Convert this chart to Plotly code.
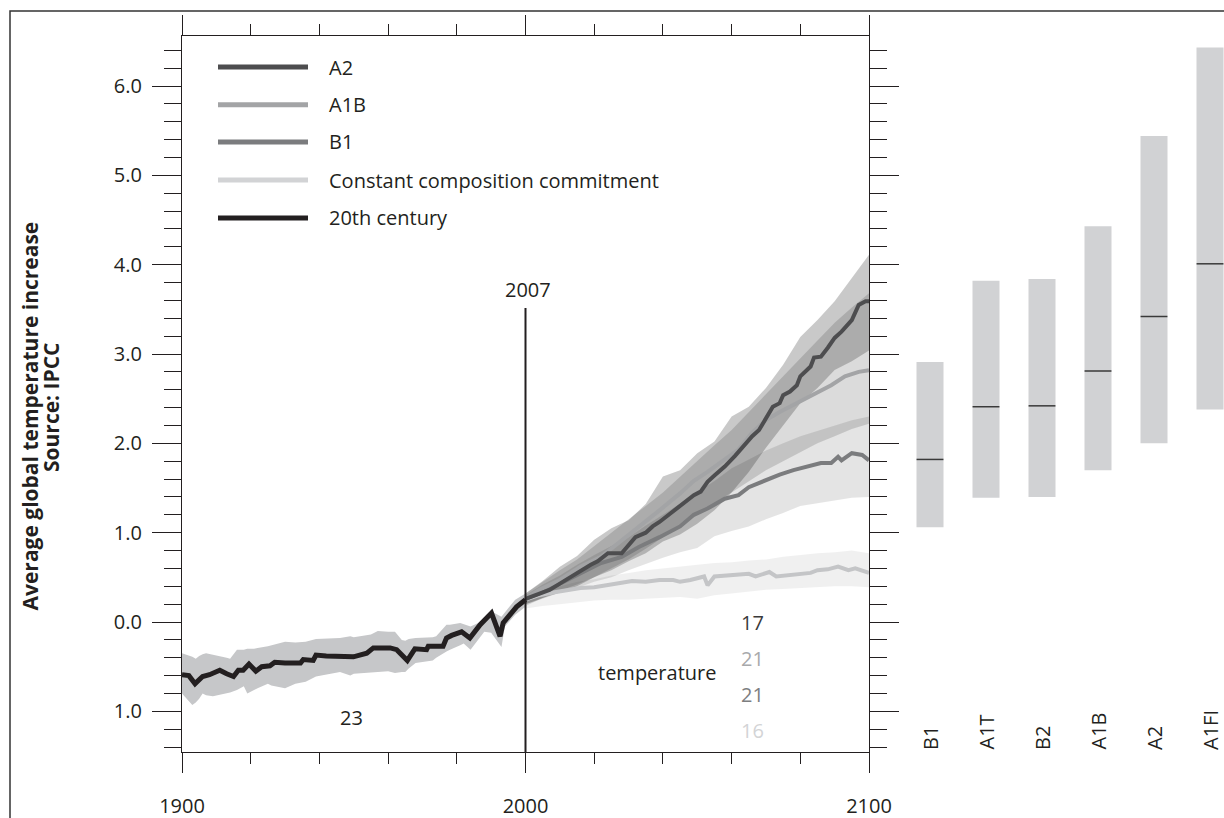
import plotly.graph_objects as go

W, H = 1224, 818
FONT = "Open Sans"
INK = "#231f20"

# ---------------- data ----------------
# 20th century observed/modelled line
hist_years = [1900, 1902, 1903.8, 1906, 1908, 1911, 1913, 1915, 1916.4, 1917.8, 1919.5, 1921.5, 1923.2, 1925.6,
              1927, 1930, 1934.5, 1935.3, 1938.2, 1939, 1942, 1946, 1949.9, 1953.8, 1955.7, 1960.6, 1962.5,
              1965.6, 1967.8, 1971.2, 1971.7, 1976, 1977, 1978.5, 1981.4, 1983.8, 1986.8, 1990.1, 1992.6,
              1993.5, 1997.4, 2000]
hist_vals = [-0.59, -0.60, -0.69, -0.61, -0.59, -0.54, -0.58, -0.61, -0.54, -0.54, -0.47, -0.55, -0.50, -0.49,
             -0.45, -0.46, -0.46, -0.42, -0.43, -0.37, -0.38, -0.38, -0.39, -0.35, -0.29, -0.29, -0.31,
             -0.43, -0.30, -0.31, -0.27, -0.27, -0.18, -0.15, -0.11, -0.18, -0.03, 0.10, -0.16,
             -0.01, 0.17, 0.25]
hist_band_years = [1900, 1903, 1904, 1905, 1906, 1907, 1909, 1913, 1914, 1916, 1918, 1919, 1921, 1922, 1925,
                   1926, 1930, 1933, 1936, 1939, 1946, 1949, 1950, 1955, 1957, 1960, 1962, 1964, 1965, 1966,
                   1968, 1973, 1974, 1977, 1978, 1981, 1982, 1984, 1988, 1990, 1993, 1994, 1997, 2000]
hist_upper = [-0.35, -0.39, -0.41, -0.38, -0.36, -0.35, -0.37, -0.40, -0.41, -0.31, -0.31, -0.30, -0.30, -0.29,
              -0.27, -0.26, -0.22, -0.23, -0.22, -0.19, -0.18, -0.16, -0.17, -0.14, -0.10, -0.11, -0.11,
              -0.20, -0.21, -0.19, -0.18, -0.17, -0.16, -0.03, -0.03, -0.01, -0.02, -0.05, 0.02, 0.12,
              0.06, 0.10, 0.25, 0.32]
hist_lower = [-0.80, -0.93, -0.90, -0.86, -0.80, -0.82, -0.83, -0.80, -0.79, -0.76, -0.72, -0.80, -0.76, -0.74,
              -0.69, -0.71, -0.74, -0.69, -0.67, -0.61, -0.56, -0.60, -0.58, -0.57, -0.56, -0.55, -0.57,
              -0.56, -0.56, -0.52, -0.46, -0.43, -0.40, -0.33, -0.31, -0.26, -0.24, -0.31, -0.11, -0.12,
              -0.28, -0.05, 0.08, 0.17]

# scenario means
a2_years = [2000, 2004, 2007, 2010, 2013, 2016, 2019, 2021, 2024, 2028, 2030, 2032, 2035, 2037, 2039, 2041,
            2044, 2047, 2049, 2051, 2053, 2055, 2058, 2061, 2064, 2066, 2068, 2070, 2072, 2074, 2075, 2077,
            2079, 2080, 2083, 2084, 2086, 2088, 2090, 2092, 2095, 2097, 2099, 2100]
a2_vals = [0.26, 0.32, 0.36, 0.43, 0.50, 0.58, 0.64, 0.68, 0.77, 0.77, 0.86, 0.95, 1.00, 1.07, 1.12, 1.18,
           1.26, 1.35, 1.42, 1.46, 1.57, 1.64, 1.74, 1.86, 2.00, 2.08, 2.15, 2.28, 2.41, 2.45, 2.54, 2.58,
           2.65, 2.75, 2.86, 2.96, 2.97, 3.07, 3.18, 3.25, 3.38, 3.55, 3.59, 3.59]
a1b_years = [2000, 2004, 2010, 2016, 2022, 2027, 2033, 2039, 2045, 2049, 2053, 2058, 2062, 2066, 2070, 2074,
             2079, 2084, 2089, 2093, 2097, 2100]
a1b_vals = [0.26, 0.36, 0.47, 0.62, 0.73, 0.88, 1.07, 1.25, 1.44, 1.58, 1.68, 1.82, 1.93, 2.12, 2.26, 2.35,
            2.45, 2.54, 2.65, 2.75, 2.80, 2.82]
b1_years = [2000, 2004, 2010, 2016, 2022, 2028, 2033, 2039, 2045, 2049, 2053, 2058, 2062, 2065, 2070, 2074,
            2078, 2082, 2086, 2089, 2091, 2092, 2095, 2098, 2100]
b1_vals = [0.26, 0.32, 0.43, 0.55, 0.66, 0.73, 0.84, 0.95, 1.07, 1.20, 1.27, 1.38, 1.42, 1.51, 1.59, 1.65,
           1.70, 1.74, 1.78, 1.78, 1.85, 1.81, 1.89, 1.87, 1.81]
cc_years = [2000, 2004, 2008, 2012, 2016, 2020, 2024, 2028, 2031, 2035, 2039, 2043, 2045, 2048, 2052, 2053,
            2055, 2060, 2063, 2065, 2067, 2071, 2073, 2078, 2083, 2085, 2088, 2091, 2094, 2096, 2100]
cc_vals = [0.25, 0.30, 0.33, 0.36, 0.38, 0.39, 0.42, 0.44, 0.46, 0.45, 0.47, 0.47, 0.45, 0.47, 0.51, 0.41,
           0.51, 0.52, 0.53, 0.54, 0.51, 0.56, 0.51, 0.53, 0.55, 0.58, 0.59, 0.62, 0.58, 0.60, 0.55]

# scenario +/- spread bands (5-year steps)
band_years = [2000, 2005, 2010, 2015, 2020, 2025, 2030, 2035, 2040, 2045, 2050, 2055, 2060, 2065, 2070,
              2075, 2080, 2085, 2090, 2095, 2100]
a2_low = [0.20, 0.27, 0.33, 0.40, 0.50, 0.58, 0.68, 0.77, 0.90, 0.98, 1.10, 1.25, 1.45, 1.68, 1.95, 2.20,
          2.45, 2.62, 2.82, 2.92, 3.04]
a2_high = [0.32, 0.46, 0.62, 0.74, 0.92, 1.05, 1.14, 1.32, 1.63, 1.70, 1.89, 2.02, 2.30, 2.41, 2.62, 2.88,
           3.19, 3.38, 3.59, 3.85, 4.11]
a1b_low = [0.18, 0.27, 0.35, 0.42, 0.50, 0.60, 0.70, 0.82, 0.95, 1.08, 1.20, 1.33, 1.45, 1.58, 1.70, 1.80,
           1.90, 2.00, 2.08, 2.16, 2.22]
a1b_high = [0.32, 0.45, 0.58, 0.70, 0.85, 1.00, 1.15, 1.30, 1.45, 1.62, 1.80, 1.98, 2.15, 2.35, 2.55, 2.75,
            2.95, 3.15, 3.35, 3.52, 3.68]
b1_low = [0.20, 0.26, 0.33, 0.38, 0.45, 0.50, 0.58, 0.65, 0.72, 0.78, 0.83, 0.96, 1.02, 1.07, 1.15, 1.22,
          1.30, 1.33, 1.36, 1.39, 1.40]
b1_high = [0.30, 0.42, 0.52, 0.64, 0.75, 0.85, 0.95, 1.08, 1.20, 1.33, 1.45, 1.58, 1.72, 1.82, 1.92, 2.00,
           2.08, 2.14, 2.20, 2.26, 2.30]
cc_low = [0.15, 0.18, 0.20, 0.22, 0.24, 0.25, 0.25, 0.26, 0.27, 0.28, 0.26, 0.30, 0.32, 0.34, 0.36, 0.37,
          0.38, 0.39, 0.40, 0.40, 0.39]
cc_high = [0.30, 0.36, 0.40, 0.45, 0.48, 0.52, 0.55, 0.58, 0.60, 0.62, 0.64, 0.66, 0.67, 0.69, 0.70, 0.73,
           0.75, 0.77, 0.78, 0.80, 0.77]

# 2100 likely ranges by scenario (right panel)
scen_names = ["B1", "A1T", "B2", "A1B", "A2", "A1FI"]
scen_low = [1.06, 1.39, 1.40, 1.70, 2.00, 2.38]
scen_high = [2.91, 3.82, 3.84, 4.43, 5.44, 6.43]
scen_best = [1.82, 2.41, 2.42, 2.81, 3.42, 4.01]

legend_names = ["A2", "A1B", "B1", "Constant composition commitment", "20th century"]
legend_colors = ["#4d4d4f", "#a3a4a6", "#7b7c7e", "#d2d3d5", "#231f20"]

y_major = [-1, 0, 1, 2, 3, 4, 5, 6]
y_major_text = ["1.0", "0.0", "1.0", "2.0", "3.0", "4.0", "5.0", "6.0"]
x_major = [1900, 2000, 2100]
x_major_text = ["1900", "2000", "2100"]

marker_year = 2000
marker_label = "2007"
number_labels = [("23", 1949.4, -1.07, INK),
                 ("17", 2066.2, 0.0, "#3a3a3a"),
                 ("21", 2066.2, -0.41, "#a8a9ab"),
                 ("21", 2066.2, -0.81, "#7d7e80"),
                 ("16", 2066.2, -1.21, "#d3d4d6")]

# ---------------- geometry ----------------
X0, X1 = 182, 869          # plot box pixels
YT, YB = 36, 752
Y_RANGE = [-1.455, 6.56]


def px(v):
    return v / W


def py(v):
    return 1 - v / H


fig = go.Figure()


def band(xs, lo, hi, color, xaxis="x"):
    fig.add_trace(go.Scatter(x=list(xs) + list(xs)[::-1], y=list(lo) + list(hi)[::-1],
                             fill="toself", fillcolor=color, line=dict(width=0),
                             mode="lines", hoverinfo="skip", showlegend=False, xaxis=xaxis))


# bands
band(hist_band_years, hist_lower, hist_upper, "#c6c7c9")
band(band_years, cc_low, cc_high, "rgba(0,0,0,0.06)")
band(band_years, b1_low, b1_high, "rgba(0,0,0,0.105)")
band(band_years, a1b_low, a1b_high, "rgba(0,0,0,0.14)")
band(band_years, a2_low, a2_high, "rgba(0,0,0,0.21)")

# lines
for xs, ys, col in [(cc_years, cc_vals, "#c4c5c7"), (b1_years, b1_vals, "#7b7c7e"),
                    (a1b_years, a1b_vals, "#a3a4a6"), (a2_years, a2_vals, "#4d4d4f")]:
    fig.add_trace(go.Scatter(x=xs, y=ys, mode="lines", line=dict(color=col, width=4),
                             showlegend=False, hoverinfo="skip"))
fig.add_trace(go.Scatter(x=hist_years, y=hist_vals, mode="lines", line=dict(color=INK, width=5),
                         showlegend=False, hoverinfo="skip"))

# 2007 marker line
fig.add_trace(go.Scatter(x=[marker_year, marker_year], y=[Y_RANGE[0], 3.515], mode="lines",
                         line=dict(color=INK, width=2), showlegend=False, hoverinfo="skip"))

# right panel bars
idx = list(range(len(scen_names)))
fig.add_trace(go.Bar(x=idx, y=[h - l for l, h in zip(scen_low, scen_high)], base=scen_low,
                     width=0.482, marker=dict(color="#d1d2d4", line=dict(width=0)),
                     xaxis="x2", yaxis="y", showlegend=False, hoverinfo="skip"))
mx, my = [], []
for i, b in zip(idx, scen_best):
    mx += [i - 0.24, i + 0.24, None]
    my += [b, b, None]
fig.add_trace(go.Scatter(x=mx, y=my, mode="lines", line=dict(color="#3a3a3a", width=1.5),
                         xaxis="x2", yaxis="y", showlegend=False, hoverinfo="skip"))

# dummy traces so the mirrored axes render
fig.add_trace(go.Scatter(x=[1900], y=[0], xaxis="x3", yaxis="y", mode="markers",
                         marker=dict(opacity=0), showlegend=False, hoverinfo="skip"))
fig.add_trace(go.Scatter(x=[1900], y=[0], xaxis="x", yaxis="y2", mode="markers",
                         marker=dict(opacity=0), showlegend=False, hoverinfo="skip"))

tick_common = dict(tickcolor=INK, tickwidth=1.3, showgrid=False, zeroline=False,
                   showline=True, linecolor=INK, linewidth=1.3, automargin=False)
xdom = [px(X0), px(X1)]
ydom = [py(YB), py(YT)]

fig.update_layout(
    width=W, height=H, margin=dict(l=0, r=0, t=0, b=0, pad=0, autoexpand=False),
    paper_bgcolor="white", plot_bgcolor="rgba(0,0,0,0)",
    font=dict(family=FONT, size=20, color=INK),
    xaxis=dict(domain=xdom, range=[1900, 2100], anchor="y", ticks="outside",
               tickmode="array", tickvals=x_major, ticktext=x_major_text, ticklen=20,
               ticklabelstandoff=16, tickfont=dict(size=20, color=INK),
               minor=dict(dtick=20, tick0=1900, ticklen=11, ticks="outside", tickcolor=INK, tickwidth=1.3),
               **tick_common),
    xaxis3=dict(domain=xdom, range=[1900, 2100], anchor="y", overlaying="x", side="top",
                ticks="outside", tickmode="array", tickvals=x_major, ticklen=20, showticklabels=False,
                minor=dict(dtick=20, tick0=1900, ticklen=11, ticks="outside", tickcolor=INK, tickwidth=1.3),
                **tick_common),
    xaxis2=dict(domain=[px(902), 1.0], range=[-0.5, 5.25], anchor="y", visible=False, automargin=False),
    yaxis=dict(domain=ydom, range=Y_RANGE, anchor="x", side="left", ticks="outside",
               tickmode="array", tickvals=y_major, ticktext=y_major_text, ticklen=29,
               ticklabelstandoff=6, tickfont=dict(size=20, color=INK),
               minor=dict(dtick=0.2, tick0=0, ticklen=17, ticks="outside", tickcolor=INK, tickwidth=1.3),
               **tick_common),
    yaxis2=dict(domain=ydom, range=Y_RANGE, anchor="x", overlaying="y", side="right",
                ticks="outside", tickmode="array", tickvals=y_major, ticklen=29, showticklabels=False,
                minor=dict(dtick=0.2, tick0=0, ticklen=17, ticks="outside", tickcolor=INK, tickwidth=1.3),
                **tick_common),
)

shapes = [dict(type="rect", xref="paper", yref="paper", x0=px(10), x1=1.2, y0=-0.2, y1=py(11),
               line=dict(color="#333", width=1.5), layer="below")]
annotations = []

# manual legend
leg_y = [67, 104.7, 142, 180, 218]
for name, col, yy in zip(legend_names, legend_colors, leg_y):
    shapes.append(dict(type="line", xref="paper", yref="paper", x0=px(218), x1=px(308),
                       y0=py(yy), y1=py(yy), line=dict(color=col, width=5)))
    annotations.append(dict(xref="paper", yref="paper", x=px(327), y=py(yy), text=name,
                            showarrow=False, xanchor="left", yanchor="middle",
                            font=dict(size=20, color=INK)))

# text labels in the plot
annotations.append(dict(x=marker_year + 0.7, y=3.72, xref="x", yref="y", text=marker_label,
                        showarrow=False, font=dict(size=20, color=INK)))
annotations.append(dict(x=2038.3, y=-0.57, xref="x", yref="y", text="temperature",
                        showarrow=False, font=dict(size=20, color=INK)))
for t, xx, yy, col in number_labels:
    annotations.append(dict(x=xx, y=yy, xref="x", yref="y", text=t, showarrow=False,
                            font=dict(size=20, color=col)))

# scenario labels under bars
for i, n in zip(idx, scen_names):
    annotations.append(dict(x=i, y=Y_RANGE[0], xref="x2", yref="y", text=n, textangle=-90,
                            showarrow=False, xanchor="center", yanchor="bottom", yshift=0,
                            font=dict(size=20, color=INK)))

# y-axis titles
annotations.append(dict(xref="paper", yref="paper", x=px(29.5), y=py(416), xanchor="center",
                        yanchor="middle", text="<b>Average global temperature increase</b>", textangle=-90,
                        showarrow=False, font=dict(size=21, color=INK)))
annotations.append(dict(xref="paper", yref="paper", x=px(51), y=py(408), xanchor="center",
                        yanchor="middle", text="<b>Source: IPCC</b>", textangle=-90,
                        showarrow=False, font=dict(size=21, color=INK)))

fig.update_layout(shapes=shapes, annotations=annotations)
fig.write_html("out.html", config={"displayModeBar": False},
               post_script="document.body.style.margin='0px';"
                           "document.body.style.overflow='hidden';")
